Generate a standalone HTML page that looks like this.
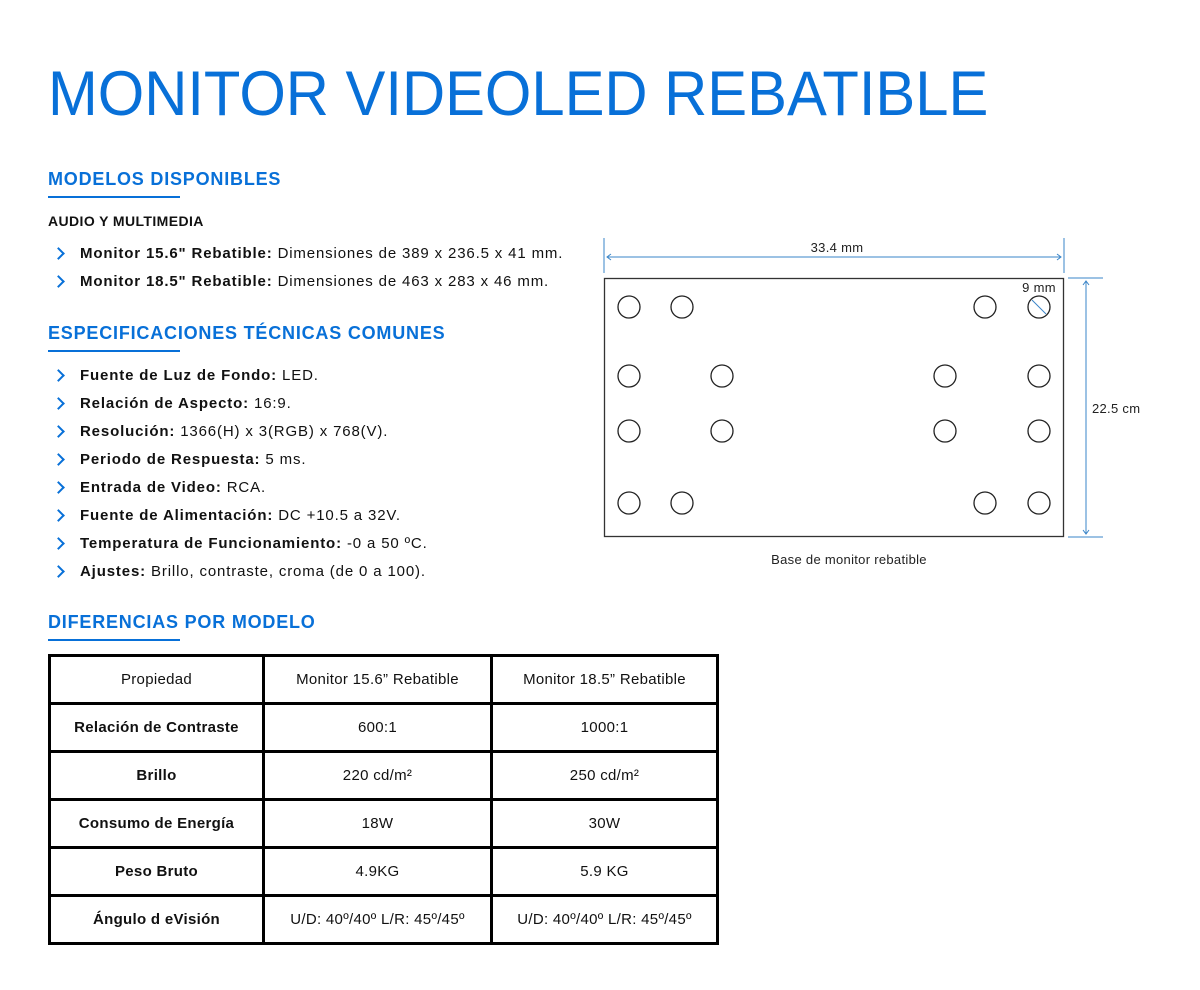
<!DOCTYPE html>
<html><head><meta charset="utf-8"><style>
*{margin:0;padding:0;box-sizing:border-box}
body{width:1200px;height:990px;background:#fff;position:relative;font-family:"Liberation Sans",sans-serif;color:#111;overflow:hidden}
.a{position:absolute;white-space:nowrap}
.title{left:48px;top:58px;font-size:63px;color:#0870d8;transform-origin:0 0;transform:scaleX(0.948);line-height:72px}
.h{left:48px;font-size:18px;font-weight:bold;color:#0870d8;line-height:22px;letter-spacing:0.8px}
.ul{position:absolute;left:48px;width:132px;height:2px;background:#0870d8}
.li{left:80px;font-size:15px;line-height:20px;letter-spacing:0.85px}
.li b{font-weight:bold}
.chev{position:absolute;left:54px;width:9px;height:9px;border-right:2px solid #0870d8;border-top:2px solid #0870d8;transform:rotate(45deg)}
table{position:absolute;left:48px;top:654px;border-collapse:collapse}
td{border:3px solid #000;height:48px;text-align:center;font-size:15px;letter-spacing:0.3px}
td.b{font-weight:bold}
</style></head><body>
<div class="a title">MONITOR VIDEOLED REBATIBLE</div>

<div class="a h" style="top:168px">MODELOS DISPONIBLES</div>
<div class="ul" style="top:196px"></div>
<div class="a" style="left:48px;top:213px;font-size:14px;font-weight:bold;letter-spacing:0.4px">AUDIO Y MULTIMEDIA</div>
<div class="chev" style="top:249px"></div><div class="a li" style="top:244px"><b>Monitor 15.6" Rebatible:</b> Dimensiones de 389 x 236.5 x 41 mm.</div>
<div class="chev" style="top:277px"></div><div class="a li" style="top:272px"><b>Monitor 18.5" Rebatible:</b> Dimensiones de 463 x 283 x 46 mm.</div>

<div class="a h" style="top:322px">ESPECIFICACIONES TÉCNICAS COMUNES</div>
<div class="ul" style="top:350px"></div>
<div class="chev" style="top:371px"></div><div class="a li" style="top:366px"><b>Fuente de Luz de Fondo:</b> LED.</div>
<div class="chev" style="top:399px"></div><div class="a li" style="top:394px"><b>Relación de Aspecto:</b> 16:9.</div>
<div class="chev" style="top:427px"></div><div class="a li" style="top:422px"><b>Resolución:</b> 1366(H) x 3(RGB) x 768(V).</div>
<div class="chev" style="top:455px"></div><div class="a li" style="top:450px"><b>Periodo de Respuesta:</b> 5 ms.</div>
<div class="chev" style="top:483px"></div><div class="a li" style="top:478px"><b>Entrada de Video:</b> RCA.</div>
<div class="chev" style="top:511px"></div><div class="a li" style="top:506px"><b>Fuente de Alimentación:</b> DC +10.5 a 32V.</div>
<div class="chev" style="top:539px"></div><div class="a li" style="top:534px"><b>Temperatura de Funcionamiento:</b> -0 a 50 ºC.</div>
<div class="chev" style="top:567px"></div><div class="a li" style="top:562px"><b>Ajustes:</b> Brillo, contraste, croma (de 0 a 100).</div>

<div class="a h" style="top:611px">DIFERENCIAS POR MODELO</div>
<div class="ul" style="top:639px"></div>

<table>
<tr><td style="width:214px">Propiedad</td><td style="width:228px">Monitor 15.6” Rebatible</td><td style="width:226px">Monitor 18.5” Rebatible</td></tr>
<tr><td class="b">Relación de Contraste</td><td>600:1</td><td>1000:1</td></tr>
<tr><td class="b">Brillo</td><td>220 cd/m²</td><td>250 cd/m²</td></tr>
<tr><td class="b">Consumo de Energía</td><td>18W</td><td>30W</td></tr>
<tr><td class="b">Peso Bruto</td><td>4.9KG</td><td>5.9 KG</td></tr>
<tr><td class="b">Ángulo d eVisión</td><td>U/D: 40º/40º L/R: 45º/45º</td><td>U/D: 40º/40º L/R: 45º/45º</td></tr>
</table>

<svg class="a" style="left:0;top:0" width="1200" height="990">
<g stroke="#3a85c8" stroke-width="1" fill="none">
<line x1="604" y1="238" x2="604" y2="273"/><line x1="1064" y1="238" x2="1064" y2="273"/>
<line x1="607" y1="257" x2="1061" y2="257"/>
<path d="M611 254 L607 257 L611 260 M1057 254 L1061 257 L1057 260"/>
<line x1="1068" y1="278" x2="1103" y2="278"/><line x1="1068" y1="537" x2="1103" y2="537"/>
<line x1="1086" y1="281" x2="1086" y2="534"/>
<path d="M1083 285 L1086 281 L1089 285 M1083 530 L1086 534 L1089 530"/>
<line x1="1032" y1="300" x2="1046" y2="314"/>
</g>
<rect x="604.5" y="278.5" width="459" height="258" fill="none" stroke="#333" stroke-width="1.3"/>
<g fill="none" stroke="#222" stroke-width="1.3">
<circle cx="629" cy="307" r="11"/><circle cx="682" cy="307" r="11"/><circle cx="985" cy="307" r="11"/><circle cx="1039" cy="307" r="11"/>
<circle cx="629" cy="376" r="11"/><circle cx="722" cy="376" r="11"/><circle cx="945" cy="376" r="11"/><circle cx="1039" cy="376" r="11"/>
<circle cx="629" cy="431" r="11"/><circle cx="722" cy="431" r="11"/><circle cx="945" cy="431" r="11"/><circle cx="1039" cy="431" r="11"/>
<circle cx="629" cy="503" r="11"/><circle cx="682" cy="503" r="11"/><circle cx="985" cy="503" r="11"/><circle cx="1039" cy="503" r="11"/>
</g>
<g font-family="Liberation Sans, sans-serif" font-size="13" fill="#222" letter-spacing="0.3">
<text x="837" y="252" text-anchor="middle">33.4 mm</text>
<text x="1039" y="292" text-anchor="middle">9 mm</text>
<text x="1092" y="413">22.5 cm</text>
<text x="849" y="564" text-anchor="middle">Base de monitor rebatible</text>
</g>
</svg>
</body></html>
